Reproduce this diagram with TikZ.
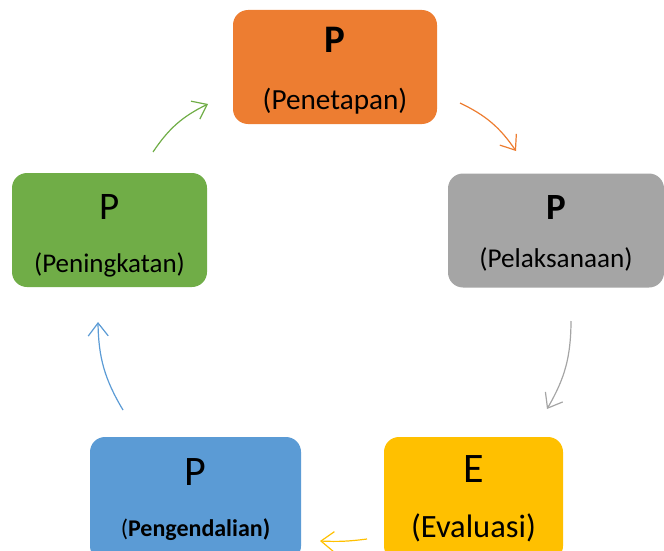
\documentclass[tikz,border=0pt]{standalone}
\usepackage{fontspec}
\setmainfont{Carlito}
\usetikzlibrary{arrows.meta, positioning}

\definecolor{stageorange}{HTML}{ED7D31}
\definecolor{stagegray}{HTML}{A5A5A5}
\definecolor{stageyellow}{HTML}{FFC000}
\definecolor{stageblue}{HTML}{5B9BD5}
\definecolor{stagegreen}{HTML}{70AD47}

\tikzset{
  stage/.style={rectangle, rounded corners=15pt, inner sep=0pt, minimum height=114pt},
  letter/.style={anchor=base, inner sep=0pt},
  caption/.style={anchor=base, inner sep=0pt},
  flow/.style={-{Straight Barb[length=13pt, width=20pt]}, line width=1.2pt}
}

\newcommand{\fs}[1]{\fontsize{#1}{#1}\selectfont}

\begin{document}
\begin{tikzpicture}[x=1pt, y=-1pt]

  \useasboundingbox (0,0) rectangle (664,551);
  \clip (0,0) rectangle (664,551);

  \node (penetapan) [stage, fill=stageorange, minimum width=204pt] at (335,67) {};
  \node (pelaksanaan) [stage, fill=stagegray, minimum width=216pt] at (556,230.5) {};
  \node (evaluasi) [stage, fill=stageyellow, minimum width=179pt, minimum height=124pt] at (473.5,499) {};
  \node (pengendalian) [stage, fill=stageblue, minimum width=211pt, minimum height=124pt] at (195.5,499) {};
  \node (peningkatan) [stage, fill=stagegreen, minimum width=195pt] at (109.5,230) {};

  \node (penetapanP) [letter, font=\fs{39}\bfseries] at ([yshift=14pt]penetapan.center) {P};
  \node (penetapanT) [caption, font=\fs{29.2}] at ([yshift=-42pt]penetapan.center) {(Penetapan)};

  \node (pelaksanaanP) [letter, font=\fs{37}\bfseries] at ([yshift=11.5pt]pelaksanaan.center) {P};
  \node (pelaksanaanT) [caption, font=\fs{27.2}] at ([yshift=-36.5pt]pelaksanaan.center) {(Pelaksanaan)};

  \node (evaluasiE) [letter, font=\fs{42}] at ([yshift=17pt]evaluasi.center) {E};
  \node (evaluasiT) [caption, font=\fs{32.5}] at ([yshift=-38pt]evaluasi.center) {(Evaluasi)};

  \node (pengendalianP) [letter, font=\fs{42}] at ([yshift=14pt]pengendalian.center) {P};
  \node (pengendalianT) [caption, font=\fs{24}] at ([yshift=-37pt]pengendalian.center) {(\textbf{Pengendalian)}};

  \node (peningkatanP) [letter, font=\fs{39}] at ([yshift=11pt]peningkatan.center) {P};
  \node (peningkatanT) [caption, font=\fs{27}] at ([yshift=-42pt]peningkatan.center) {(Peningkatan)};

  % arrow ends between the boxes
  \coordinate (a1s) at (460,103);
  \coordinate (a1e) at (516,151);
  \coordinate (a2s) at (571,321);
  \coordinate (a2e) at (547,409);
  \coordinate (a3s) at (367,539);
  \coordinate (a3e) at (320,541);
  \coordinate (a4s) at (123,410);
  \coordinate (a4e) at (98,322);
  \coordinate (a5s) at (153,152);
  \coordinate (a5e) at (208,104);

  \draw[flow, stageorange] (a1s) to[bend left=15] (a1e);
  \draw[flow, stagegray] (a2s) to[bend left=15] (a2e);
  \draw[flow, stageyellow] (a3s) to[bend left=5] (a3e);
  \draw[flow, stageblue] (a4s) to[bend left=15] (a4e);
  \draw[flow, stagegreen] (a5s) to[bend left=15] (a5e);

\end{tikzpicture}
\end{document}
